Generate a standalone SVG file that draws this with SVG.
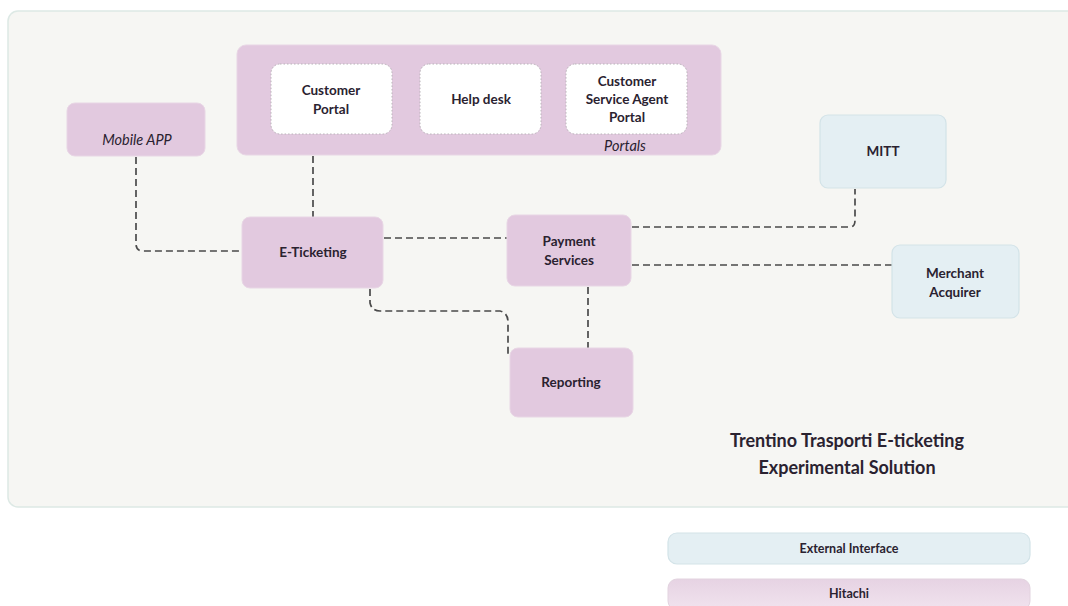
<svg xmlns="http://www.w3.org/2000/svg" width="1068" height="606" viewBox="0 0 1068 606">
<style>
text{font-family:Lato,"Open Sans","Liberation Sans",sans-serif;fill:#2a2230;text-anchor:middle}
.b{font-weight:bold;font-size:13.5px}
.i{font-style:italic;font-size:14.5px}
.h{fill:#e2c9df;stroke:#e8d6e5;stroke-width:1}
.e{fill:#e4eff3;stroke:#d3e3e8;stroke-width:1.2}
.w{fill:#ffffff;stroke:#b9b4b9;stroke-width:1;stroke-dasharray:1.5 2}
.c{fill:none;stroke:#4a4a4a;stroke-width:1.7;stroke-dasharray:7 4}
</style>
<defs>
<linearGradient id="hg" x1="0" y1="0" x2="0" y2="1">
<stop offset="0" stop-color="#e6d3e3"/>
<stop offset="1" stop-color="#f1e3ee"/>
</linearGradient>
</defs>
<rect x="0" y="0" width="1068" height="606" fill="#ffffff"/>
<rect x="8" y="11" width="1080" height="496" rx="10" fill="#f6f6f3" stroke="#dde9e5" stroke-width="1.5"/>
<g id="connectors">
<path class="c" d="M136 157 V244 Q136 251 143 251 H242"/>
<path class="c" d="M313 156 V217"/>
<path class="c" d="M384 238 H507"/>
<path class="c" d="M632 227 H850 Q855 227 855 220 V189"/>
<path class="c" d="M632 265 H892"/>
<path class="c" d="M370 289 V303 Q372 311 380 311 H500 Q508 313 508 322 V356"/>
<path class="c" d="M588 287 V348"/>
</g>
<g id="portals">
<rect class="h" x="237" y="45" width="484" height="110" rx="9"/>
<text class="i" x="625" y="151">Portals</text>
</g>
<g id="customer-portal">
<rect class="w" x="271" y="64" width="121" height="70" rx="9"/>
<text class="b" x="331" y="95">Customer</text>
<text class="b" x="331" y="114">Portal</text>
</g>
<g id="help-desk">
<rect class="w" x="420" y="64" width="121" height="70" rx="9"/>
<text class="b" x="481" y="104">Help desk</text>
</g>
<g id="csa-portal">
<rect class="w" x="566" y="64" width="121" height="70" rx="9"/>
<text class="b" x="627" y="86">Customer</text>
<text class="b" x="627" y="104">Service Agent</text>
<text class="b" x="627" y="122">Portal</text>
</g>
<g id="mobile-app">
<rect class="h" x="67" y="103" width="138" height="53" rx="8"/>
<text class="i" x="137" y="145">Mobile APP</text>
</g>
<g id="e-ticketing">
<rect class="h" x="242" y="217" width="141" height="71" rx="8"/>
<text class="b" x="313" y="257">E-Ticketing</text>
</g>
<g id="payment-services">
<rect class="h" x="507" y="215" width="124" height="71" rx="8"/>
<text class="b" x="569" y="246">Payment</text>
<text class="b" x="569" y="265">Services</text>
</g>
<g id="reporting">
<rect class="h" x="510" y="348" width="123" height="69" rx="8"/>
<text class="b" x="571" y="387">Reporting</text>
</g>
<g id="mitt">
<rect class="e" x="820" y="115" width="126" height="73" rx="8"/>
<text class="b" x="883" y="156">MITT</text>
</g>
<g id="merchant-acquirer">
<rect class="e" x="892" y="245" width="127" height="73" rx="8"/>
<text class="b" x="955" y="278">Merchant</text>
<text class="b" x="955" y="297">Acquirer</text>
</g>
<g id="title">
<text x="847" y="447" style="font-weight:bold;font-size:18px">Trentino Trasporti E-ticketing</text>
<text x="847" y="474" style="font-weight:bold;font-size:18px">Experimental Solution</text>
</g>
<g id="legend-external">
<rect class="e" x="668" y="533" width="362" height="31" rx="9"/>
<text x="849" y="553" style="font-weight:bold;font-size:12.5px">External Interface</text>
</g>
<g id="legend-hitachi">
<rect x="668" y="579" width="362" height="31" rx="9" fill="url(#hg)" stroke="#e2d3df"/>
<text x="849" y="598" style="font-weight:bold;font-size:12.5px">Hitachi</text>
</g>
</svg>
